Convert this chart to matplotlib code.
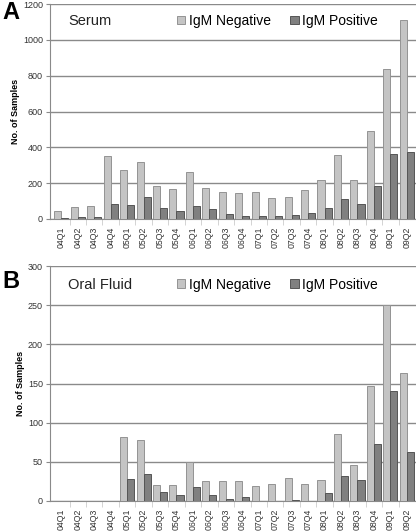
import numpy as np
import matplotlib.pyplot as plt

plt.rcParams['font.family'] = ['Liberation Sans', 'DejaVu Sans']

quarters = ['04Q1', '04Q2', '04Q3', '04Q4', '05Q1', '05Q2', '05Q3', '05Q4',
            '06Q1', '06Q2', '06Q3', '06Q4', '07Q1', '07Q2', '07Q3', '07Q4',
            '08Q1', '08Q2', '08Q3', '08Q4', '09Q1', '09Q2']

serum_neg = [45, 65, 70, 350, 275, 320, 185, 168, 265, 175, 148, 145,
             153, 120, 125, 160, 220, 360, 215, 490, 835, 1110]
serum_pos = [5, 10, 10, 82, 78, 125, 60, 42, 72, 57, 28, 18,
             14, 18, 20, 32, 60, 112, 83, 183, 365, 372]

oral_neg = [0, 0, 0, 0, 82, 78, 20, 20, 50, 26, 25, 26,
            19, 22, 29, 22, 27, 85, 46, 147, 250, 164]
oral_pos = [0, 0, 0, 0, 28, 35, 11, 8, 18, 8, 2, 5,
            0, 0, 1, 0, 10, 32, 27, 73, 141, 63]

neg_color = '#c4c4c4'
pos_color = '#808080'
grid_color = '#8a8a8a'

W, H = 416, 531
fig = plt.figure(figsize=(W / 100, H / 100), dpi=100)


def panel(rect, neg, pos, ymax, step, title, letter, letter_y):
    ax = fig.add_axes(rect)
    x = np.arange(len(quarters))
    w = 0.43
    ax.bar(x - w / 2, neg, w, color=neg_color, edgecolor='#939393', lw=0.7,
           label='IgM Negative', zorder=3)
    ax.bar(x + w / 2, pos, w, color=pos_color, edgecolor='#555555', lw=0.7,
           label='IgM Positive', zorder=3)
    ax.set_xlim(-0.69, 21.56)
    ax.set_ylim(0, ymax)
    ax.set_yticks(np.arange(0, ymax + 1, step))
    ax.yaxis.grid(True, color=grid_color, lw=1, zorder=0)
    ax.set_xticks(x)
    ax.set_xticklabels(quarters, rotation=90, fontsize=6.3, color='#333333')
    ax.set_xticks(np.arange(0.5, 21, 1), minor=True)
    ax.tick_params(axis='x', which='major', length=0, pad=5.5)
    ax.tick_params(axis='x', which='minor', length=4, color='#cccccc')
    ax.tick_params(axis='y', labelsize=6.5, length=3, color=grid_color,
                   labelcolor='#333333', pad=2)
    for s in ['top', 'right']:
        ax.spines[s].set_visible(False)
    ax.spines['left'].set_color(grid_color)
    ax.spines['bottom'].set_color(grid_color)
    ax.set_ylabel('No. of Samples', fontsize=6.5, fontweight='bold', labelpad=2)
    ax.text(0.049, 0.921, title, transform=ax.transAxes, fontsize=10.5,
            va='center', ha='left', color='#222222')
    ax.legend(loc='center left', bbox_to_anchor=(0.347, 0.921), ncol=2,
              frameon=False, fontsize=10, handlelength=0.6, handleheight=0.6,
              handletextpad=0.25, columnspacing=1.4, borderpad=0, borderaxespad=0)
    fig.text(2 / W, letter_y, letter, fontsize=17, fontweight='bold',
             va='top', ha='left')
    return ax


panel([50 / W, 1 - 219 / H, 366 / W, 215 / H], serum_neg, serum_pos,
      1200, 200, 'Serum', 'A', 1 - 1 / H)
panel([50 / W, 1 - 501 / H, 366 / W, 235 / H], oral_neg, oral_pos,
      300, 50, 'Oral Fluid', 'B', 1 - 270 / H)

fig.savefig('out.png', dpi=100)
